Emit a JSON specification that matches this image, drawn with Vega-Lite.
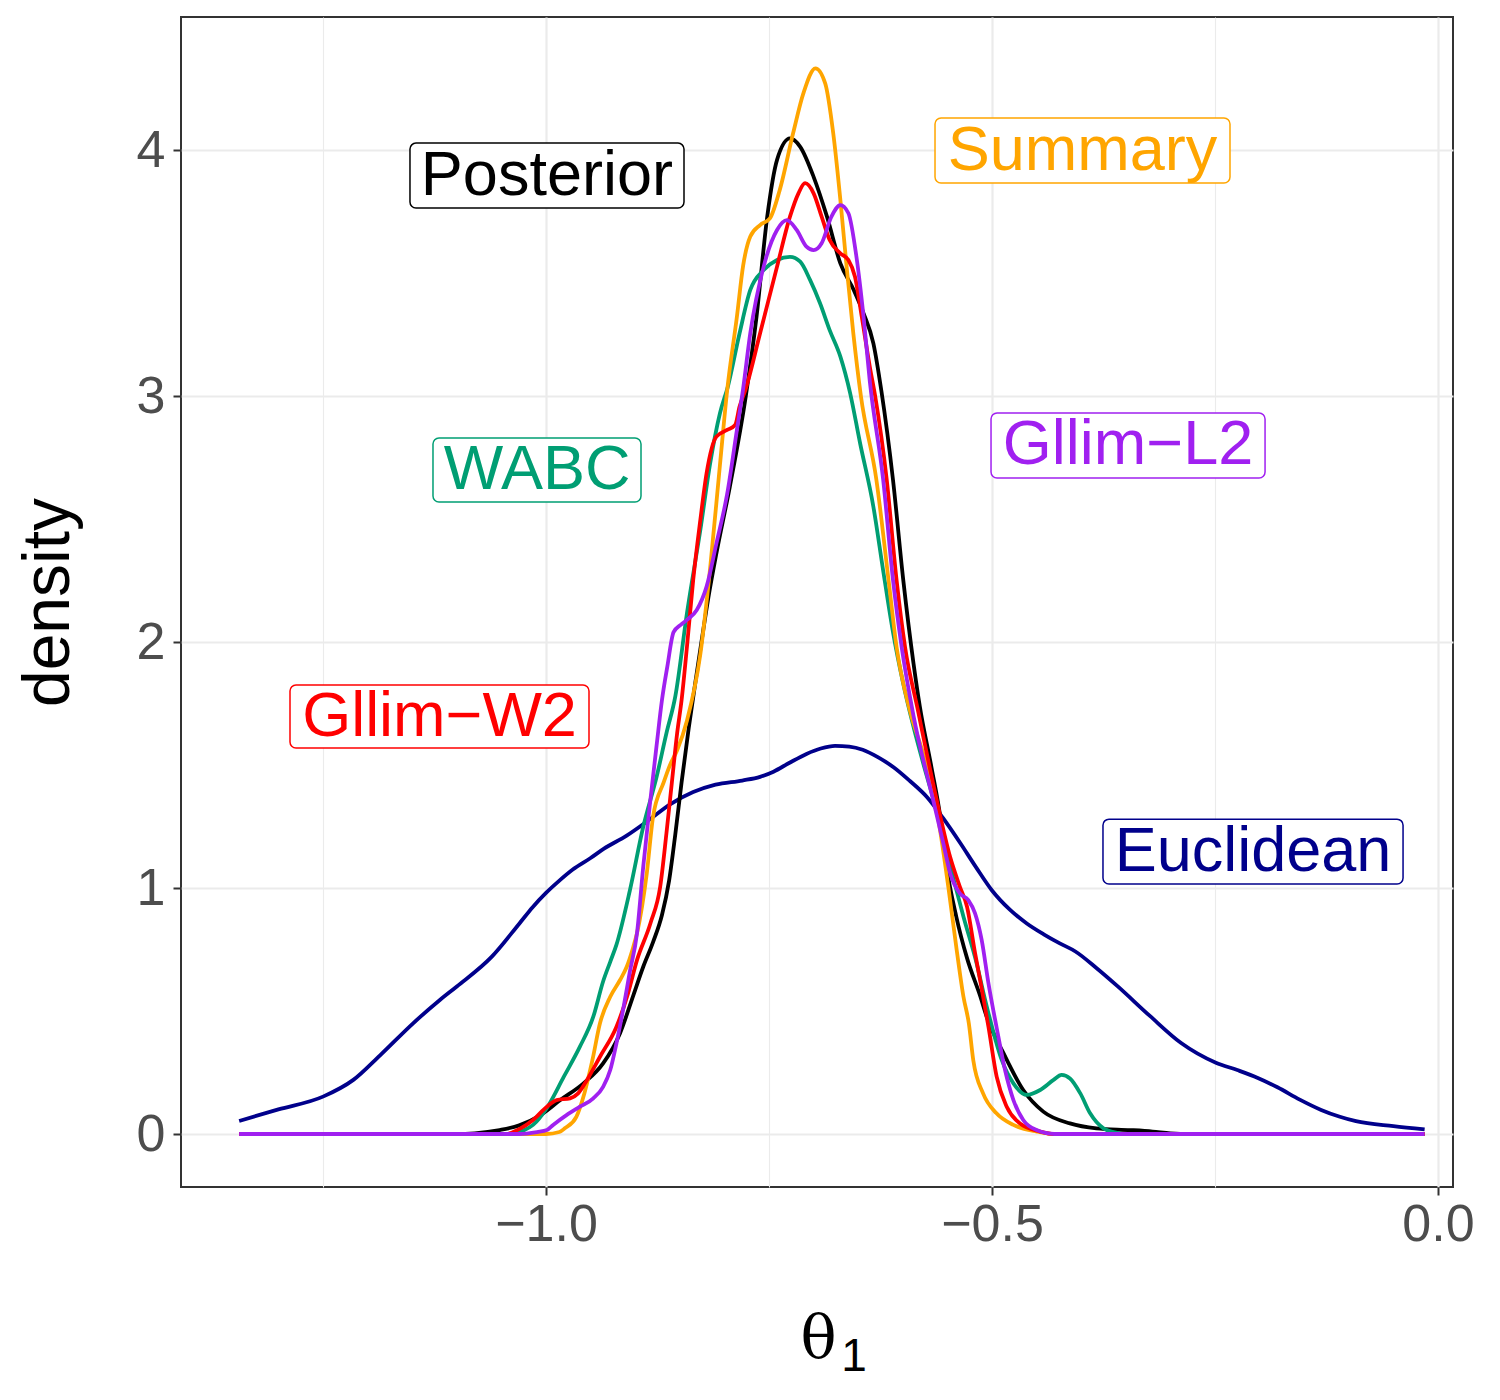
{
  "$schema": "https://vega.github.io/schema/vega-lite/v6.json",
  "width": 1272,
  "height": 1170,
  "autosize": {"type": "none"},
  "padding": {"left": 181, "top": 17, "right": 47, "bottom": 213},
  "background": "white",
  "config": {
    "view": {"stroke": "#333333", "strokeWidth": 2},
    "font": "Liberation Sans"
  },
  "title": {
    "text": "1",
    "orient": "bottom",
    "anchor": "start",
    "frame": "group",
    "align": "center",
    "baseline": "top",
    "dx": 673,
    "offset": -34,
    "font": "Liberation Sans",
    "fontSize": 46,
    "fontWeight": "normal",
    "color": "#000000"
  },
  "datasets": {
    "dens": [
      {"method": "Euclidean", "theta": -1.344, "density": 0.053},
      {"method": "Euclidean", "theta": -1.3, "density": 0.1},
      {"method": "Euclidean", "theta": -1.25, "density": 0.152},
      {"method": "Euclidean", "theta": -1.216, "density": 0.22},
      {"method": "Euclidean", "theta": -1.186, "density": 0.32},
      {"method": "Euclidean", "theta": -1.149, "density": 0.45},
      {"method": "Euclidean", "theta": -1.119, "density": 0.545},
      {"method": "Euclidean", "theta": -1.1, "density": 0.6},
      {"method": "Euclidean", "theta": -1.061, "density": 0.72},
      {"method": "Euclidean", "theta": -1.03, "density": 0.855},
      {"method": "Euclidean", "theta": -1.015, "density": 0.922},
      {"method": "Euclidean", "theta": -1.0, "density": 0.98},
      {"method": "Euclidean", "theta": -0.985, "density": 1.03},
      {"method": "Euclidean", "theta": -0.97, "density": 1.075},
      {"method": "Euclidean", "theta": -0.95, "density": 1.122},
      {"method": "Euclidean", "theta": -0.935, "density": 1.16},
      {"method": "Euclidean", "theta": -0.91, "density": 1.212},
      {"method": "Euclidean", "theta": -0.887, "density": 1.27},
      {"method": "Euclidean", "theta": -0.86, "density": 1.342},
      {"method": "Euclidean", "theta": -0.835, "density": 1.39},
      {"method": "Euclidean", "theta": -0.81, "density": 1.42},
      {"method": "Euclidean", "theta": -0.78, "density": 1.437},
      {"method": "Euclidean", "theta": -0.76, "density": 1.452},
      {"method": "Euclidean", "theta": -0.745, "density": 1.473},
      {"method": "Euclidean", "theta": -0.728, "density": 1.507},
      {"method": "Euclidean", "theta": -0.708, "density": 1.545},
      {"method": "Euclidean", "theta": -0.692, "density": 1.567},
      {"method": "Euclidean", "theta": -0.676, "density": 1.578},
      {"method": "Euclidean", "theta": -0.66, "density": 1.575},
      {"method": "Euclidean", "theta": -0.645, "density": 1.562},
      {"method": "Euclidean", "theta": -0.628, "density": 1.532},
      {"method": "Euclidean", "theta": -0.61, "density": 1.49},
      {"method": "Euclidean", "theta": -0.592, "density": 1.435},
      {"method": "Euclidean", "theta": -0.573, "density": 1.37},
      {"method": "Euclidean", "theta": -0.555, "density": 1.285},
      {"method": "Euclidean", "theta": -0.536, "density": 1.185},
      {"method": "Euclidean", "theta": -0.518, "density": 1.085},
      {"method": "Euclidean", "theta": -0.5, "density": 0.99},
      {"method": "Euclidean", "theta": -0.48, "density": 0.912},
      {"method": "Euclidean", "theta": -0.461, "density": 0.856},
      {"method": "Euclidean", "theta": -0.442, "density": 0.812},
      {"method": "Euclidean", "theta": -0.424, "density": 0.775},
      {"method": "Euclidean", "theta": -0.4065, "density": 0.742},
      {"method": "Euclidean", "theta": -0.383, "density": 0.675},
      {"method": "Euclidean", "theta": -0.359, "density": 0.6},
      {"method": "Euclidean", "theta": -0.323, "density": 0.48},
      {"method": "Euclidean", "theta": -0.288, "density": 0.37},
      {"method": "Euclidean", "theta": -0.249, "density": 0.29},
      {"method": "Euclidean", "theta": -0.225, "density": 0.26},
      {"method": "Euclidean", "theta": -0.202, "density": 0.228},
      {"method": "Euclidean", "theta": -0.18, "density": 0.19},
      {"method": "Euclidean", "theta": -0.155, "density": 0.14},
      {"method": "Euclidean", "theta": -0.131, "density": 0.098},
      {"method": "Euclidean", "theta": -0.11, "density": 0.07},
      {"method": "Euclidean", "theta": -0.092, "density": 0.052},
      {"method": "Euclidean", "theta": -0.05, "density": 0.032},
      {"method": "Euclidean", "theta": -0.015, "density": 0.019},

      {"method": "Posterior", "theta": -1.344, "density": 0},
      {"method": "Posterior", "theta": -1.1, "density": 0},
      {"method": "Posterior", "theta": -1.08, "density": 0.003},
      {"method": "Posterior", "theta": -1.052, "density": 0.016},
      {"method": "Posterior", "theta": -1.03, "density": 0.035},
      {"method": "Posterior", "theta": -1.007, "density": 0.075},
      {"method": "Posterior", "theta": -0.984, "density": 0.138},
      {"method": "Posterior", "theta": -0.958, "density": 0.206},
      {"method": "Posterior", "theta": -0.936, "density": 0.287},
      {"method": "Posterior", "theta": -0.917, "density": 0.41},
      {"method": "Posterior", "theta": -0.902, "density": 0.565},
      {"method": "Posterior", "theta": -0.891, "density": 0.68},
      {"method": "Posterior", "theta": -0.88, "density": 0.78},
      {"method": "Posterior", "theta": -0.87, "density": 0.89},
      {"method": "Posterior", "theta": -0.862, "density": 1.03},
      {"method": "Posterior", "theta": -0.855, "density": 1.22},
      {"method": "Posterior", "theta": -0.848, "density": 1.43},
      {"method": "Posterior", "theta": -0.84, "density": 1.65},
      {"method": "Posterior", "theta": -0.832, "density": 1.85},
      {"method": "Posterior", "theta": -0.827, "density": 1.97},
      {"method": "Posterior", "theta": -0.818, "density": 2.18},
      {"method": "Posterior", "theta": -0.809, "density": 2.36},
      {"method": "Posterior", "theta": -0.794, "density": 2.63},
      {"method": "Posterior", "theta": -0.776, "density": 3.0},
      {"method": "Posterior", "theta": -0.764, "density": 3.322},
      {"method": "Posterior", "theta": -0.752, "density": 3.729},
      {"method": "Posterior", "theta": -0.741, "density": 3.96},
      {"method": "Posterior", "theta": -0.7265, "density": 4.047},
      {"method": "Posterior", "theta": -0.715, "density": 4.013},
      {"method": "Posterior", "theta": -0.7, "density": 3.891},
      {"method": "Posterior", "theta": -0.685, "density": 3.729},
      {"method": "Posterior", "theta": -0.67, "density": 3.539},
      {"method": "Posterior", "theta": -0.655, "density": 3.431},
      {"method": "Posterior", "theta": -0.644, "density": 3.336},
      {"method": "Posterior", "theta": -0.633, "density": 3.214},
      {"method": "Posterior", "theta": -0.624, "density": 3.02},
      {"method": "Posterior", "theta": -0.611, "density": 2.659},
      {"method": "Posterior", "theta": -0.5995, "density": 2.252},
      {"method": "Posterior", "theta": -0.588, "density": 1.913},
      {"method": "Posterior", "theta": -0.581, "density": 1.74},
      {"method": "Posterior", "theta": -0.568, "density": 1.493},
      {"method": "Posterior", "theta": -0.558, "density": 1.29},
      {"method": "Posterior", "theta": -0.551, "density": 1.087},
      {"method": "Posterior", "theta": -0.54, "density": 0.883},
      {"method": "Posterior", "theta": -0.528, "density": 0.715},
      {"method": "Posterior", "theta": -0.513, "density": 0.558},
      {"method": "Posterior", "theta": -0.506, "density": 0.477},
      {"method": "Posterior", "theta": -0.487, "density": 0.328},
      {"method": "Posterior", "theta": -0.465, "density": 0.179},
      {"method": "Posterior", "theta": -0.4425, "density": 0.091},
      {"method": "Posterior", "theta": -0.4126, "density": 0.043},
      {"method": "Posterior", "theta": -0.383, "density": 0.023},
      {"method": "Posterior", "theta": -0.345, "density": 0.016},
      {"method": "Posterior", "theta": -0.32, "density": 0.01},
      {"method": "Posterior", "theta": -0.3, "density": 0.003},
      {"method": "Posterior", "theta": -0.28, "density": 0},
      {"method": "Posterior", "theta": -0.015, "density": 0},

      {"method": "WABC", "theta": -1.344, "density": 0},
      {"method": "WABC", "theta": -1.04, "density": 0},
      {"method": "WABC", "theta": -1.025, "density": 0.015},
      {"method": "WABC", "theta": -1.0145, "density": 0.037},
      {"method": "WABC", "theta": -0.999, "density": 0.106},
      {"method": "WABC", "theta": -0.98, "density": 0.233},
      {"method": "WABC", "theta": -0.962, "density": 0.355},
      {"method": "WABC", "theta": -0.947, "density": 0.477},
      {"method": "WABC", "theta": -0.936, "density": 0.62},
      {"method": "WABC", "theta": -0.928, "density": 0.7},
      {"method": "WABC", "theta": -0.921, "density": 0.77},
      {"method": "WABC", "theta": -0.906, "density": 0.99},
      {"method": "WABC", "theta": -0.891, "density": 1.249},
      {"method": "WABC", "theta": -0.876, "density": 1.452},
      {"method": "WABC", "theta": -0.865, "density": 1.629},
      {"method": "WABC", "theta": -0.855, "density": 1.78},
      {"method": "WABC", "theta": -0.842, "density": 2.117},
      {"method": "WABC", "theta": -0.827, "density": 2.455},
      {"method": "WABC", "theta": -0.816, "density": 2.726},
      {"method": "WABC", "theta": -0.805, "density": 2.93},
      {"method": "WABC", "theta": -0.796, "density": 3.04},
      {"method": "WABC", "theta": -0.783, "density": 3.255},
      {"method": "WABC", "theta": -0.771, "density": 3.431},
      {"method": "WABC", "theta": -0.756, "density": 3.512},
      {"method": "WABC", "theta": -0.741, "density": 3.553},
      {"method": "WABC", "theta": -0.7265, "density": 3.566},
      {"method": "WABC", "theta": -0.715, "density": 3.546},
      {"method": "WABC", "theta": -0.704, "density": 3.472},
      {"method": "WABC", "theta": -0.6928, "density": 3.377},
      {"method": "WABC", "theta": -0.682, "density": 3.268},
      {"method": "WABC", "theta": -0.67, "density": 3.16},
      {"method": "WABC", "theta": -0.659, "density": 3.011},
      {"method": "WABC", "theta": -0.648, "density": 2.81},
      {"method": "WABC", "theta": -0.633, "density": 2.55},
      {"method": "WABC", "theta": -0.622, "density": 2.29},
      {"method": "WABC", "theta": -0.611, "density": 2.04},
      {"method": "WABC", "theta": -0.5995, "density": 1.83},
      {"method": "WABC", "theta": -0.588, "density": 1.655},
      {"method": "WABC", "theta": -0.577, "density": 1.505},
      {"method": "WABC", "theta": -0.562, "density": 1.312},
      {"method": "WABC", "theta": -0.547, "density": 1.09},
      {"method": "WABC", "theta": -0.532, "density": 0.883},
      {"method": "WABC", "theta": -0.517, "density": 0.69},
      {"method": "WABC", "theta": -0.51, "density": 0.58},
      {"method": "WABC", "theta": -0.502, "density": 0.463},
      {"method": "WABC", "theta": -0.489, "density": 0.3},
      {"method": "WABC", "theta": -0.476, "density": 0.206},
      {"method": "WABC", "theta": -0.461, "density": 0.159},
      {"method": "WABC", "theta": -0.446, "density": 0.179},
      {"method": "WABC", "theta": -0.431, "density": 0.22},
      {"method": "WABC", "theta": -0.422, "density": 0.24},
      {"method": "WABC", "theta": -0.4126, "density": 0.226},
      {"method": "WABC", "theta": -0.401, "density": 0.165},
      {"method": "WABC", "theta": -0.39, "density": 0.084},
      {"method": "WABC", "theta": -0.375, "density": 0.023},
      {"method": "WABC", "theta": -0.36, "density": 0.005},
      {"method": "WABC", "theta": -0.35, "density": 0},
      {"method": "WABC", "theta": -0.015, "density": 0},

      {"method": "Summary", "theta": -1.344, "density": 0},
      {"method": "Summary", "theta": -1.0, "density": 0},
      {"method": "Summary", "theta": -0.985, "density": 0.008},
      {"method": "Summary", "theta": -0.979, "density": 0.023},
      {"method": "Summary", "theta": -0.966, "density": 0.07},
      {"method": "Summary", "theta": -0.957, "density": 0.165},
      {"method": "Summary", "theta": -0.948, "density": 0.3},
      {"method": "Summary", "theta": -0.9395, "density": 0.45},
      {"method": "Summary", "theta": -0.928, "density": 0.558},
      {"method": "Summary", "theta": -0.917, "density": 0.626},
      {"method": "Summary", "theta": -0.9095, "density": 0.68},
      {"method": "Summary", "theta": -0.903, "density": 0.75},
      {"method": "Summary", "theta": -0.898, "density": 0.816},
      {"method": "Summary", "theta": -0.887, "density": 1.06},
      {"method": "Summary", "theta": -0.88, "density": 1.29},
      {"method": "Summary", "theta": -0.868, "density": 1.43},
      {"method": "Summary", "theta": -0.861, "density": 1.5},
      {"method": "Summary", "theta": -0.853, "density": 1.56},
      {"method": "Summary", "theta": -0.842, "density": 1.68},
      {"method": "Summary", "theta": -0.827, "density": 1.95},
      {"method": "Summary", "theta": -0.816, "density": 2.3},
      {"method": "Summary", "theta": -0.805, "density": 2.72},
      {"method": "Summary", "theta": -0.797, "density": 3.02},
      {"method": "Summary", "theta": -0.786, "density": 3.322},
      {"method": "Summary", "theta": -0.779, "density": 3.53},
      {"method": "Summary", "theta": -0.771, "density": 3.648},
      {"method": "Summary", "theta": -0.76, "density": 3.695},
      {"method": "Summary", "theta": -0.749, "density": 3.722},
      {"method": "Summary", "theta": -0.738, "density": 3.837},
      {"method": "Summary", "theta": -0.723, "density": 4.068},
      {"method": "Summary", "theta": -0.7115, "density": 4.23},
      {"method": "Summary", "theta": -0.698, "density": 4.332},
      {"method": "Summary", "theta": -0.687, "density": 4.271},
      {"method": "Summary", "theta": -0.678, "density": 4.068},
      {"method": "Summary", "theta": -0.67, "density": 3.797},
      {"method": "Summary", "theta": -0.663, "density": 3.526},
      {"method": "Summary", "theta": -0.6555, "density": 3.255},
      {"method": "Summary", "theta": -0.647, "density": 3.0},
      {"method": "Summary", "theta": -0.6296, "density": 2.659},
      {"method": "Summary", "theta": -0.616, "density": 2.252},
      {"method": "Summary", "theta": -0.607, "density": 1.98},
      {"method": "Summary", "theta": -0.592, "density": 1.72},
      {"method": "Summary", "theta": -0.575, "density": 1.52},
      {"method": "Summary", "theta": -0.562, "density": 1.317},
      {"method": "Summary", "theta": -0.549, "density": 1.005},
      {"method": "Summary", "theta": -0.5396, "density": 0.748},
      {"method": "Summary", "theta": -0.532, "density": 0.558},
      {"method": "Summary", "theta": -0.526, "density": 0.45},
      {"method": "Summary", "theta": -0.521, "density": 0.3},
      {"method": "Summary", "theta": -0.51, "density": 0.165},
      {"method": "Summary", "theta": -0.495, "density": 0.084},
      {"method": "Summary", "theta": -0.476, "density": 0.037},
      {"method": "Summary", "theta": -0.45, "density": 0.01},
      {"method": "Summary", "theta": -0.43, "density": 0},
      {"method": "Summary", "theta": -0.015, "density": 0},

      {"method": "Gllim−W2", "theta": -1.344, "density": 0},
      {"method": "Gllim−W2", "theta": -1.045, "density": 0},
      {"method": "Gllim−W2", "theta": -1.03, "density": 0.02},
      {"method": "Gllim−W2", "theta": -1.0145, "density": 0.057},
      {"method": "Gllim−W2", "theta": -0.999, "density": 0.111},
      {"method": "Gllim−W2", "theta": -0.988, "density": 0.138},
      {"method": "Gllim−W2", "theta": -0.973, "density": 0.145},
      {"method": "Gllim−W2", "theta": -0.964, "density": 0.165},
      {"method": "Gllim−W2", "theta": -0.954, "density": 0.22},
      {"method": "Gllim−W2", "theta": -0.9395, "density": 0.314},
      {"method": "Gllim−W2", "theta": -0.921, "density": 0.436},
      {"method": "Gllim−W2", "theta": -0.909, "density": 0.56},
      {"method": "Gllim−W2", "theta": -0.898, "density": 0.707},
      {"method": "Gllim−W2", "theta": -0.883, "density": 0.856},
      {"method": "Gllim−W2", "theta": -0.872, "density": 1.005},
      {"method": "Gllim−W2", "theta": -0.865, "density": 1.222},
      {"method": "Gllim−W2", "theta": -0.859, "density": 1.426},
      {"method": "Gllim−W2", "theta": -0.853, "density": 1.629},
      {"method": "Gllim−W2", "theta": -0.848, "density": 1.764},
      {"method": "Gllim−W2", "theta": -0.842, "density": 1.98},
      {"method": "Gllim−W2", "theta": -0.835, "density": 2.252},
      {"method": "Gllim−W2", "theta": -0.827, "density": 2.496},
      {"method": "Gllim−W2", "theta": -0.82, "density": 2.686},
      {"method": "Gllim−W2", "theta": -0.809, "density": 2.835},
      {"method": "Gllim−W2", "theta": -0.797, "density": 2.862},
      {"method": "Gllim−W2", "theta": -0.788, "density": 2.882},
      {"method": "Gllim−W2", "theta": -0.783, "density": 2.957},
      {"method": "Gllim−W2", "theta": -0.776, "density": 3.03},
      {"method": "Gllim−W2", "theta": -0.76, "density": 3.255},
      {"method": "Gllim−W2", "theta": -0.741, "density": 3.526},
      {"method": "Gllim−W2", "theta": -0.7265, "density": 3.729},
      {"method": "Gllim−W2", "theta": -0.717, "density": 3.824},
      {"method": "Gllim−W2", "theta": -0.7096, "density": 3.865},
      {"method": "Gllim−W2", "theta": -0.7, "density": 3.824},
      {"method": "Gllim−W2", "theta": -0.691, "density": 3.729},
      {"method": "Gllim−W2", "theta": -0.682, "density": 3.634},
      {"method": "Gllim−W2", "theta": -0.67, "density": 3.58},
      {"method": "Gllim−W2", "theta": -0.661, "density": 3.553},
      {"method": "Gllim−W2", "theta": -0.6536, "density": 3.485},
      {"method": "Gllim−W2", "theta": -0.646, "density": 3.322},
      {"method": "Gllim−W2", "theta": -0.637, "density": 3.119},
      {"method": "Gllim−W2", "theta": -0.631, "density": 3.0},
      {"method": "Gllim−W2", "theta": -0.618, "density": 2.659},
      {"method": "Gllim−W2", "theta": -0.607, "density": 2.252},
      {"method": "Gllim−W2", "theta": -0.5975, "density": 1.98},
      {"method": "Gllim−W2", "theta": -0.5835, "density": 1.73},
      {"method": "Gllim−W2", "theta": -0.562, "density": 1.358},
      {"method": "Gllim−W2", "theta": -0.547, "density": 1.127},
      {"method": "Gllim−W2", "theta": -0.536, "density": 1.005},
      {"method": "Gllim−W2", "theta": -0.528, "density": 0.924},
      {"method": "Gllim−W2", "theta": -0.519, "density": 0.735},
      {"method": "Gllim−W2", "theta": -0.512, "density": 0.6},
      {"method": "Gllim−W2", "theta": -0.504, "density": 0.436},
      {"method": "Gllim−W2", "theta": -0.4948, "density": 0.233},
      {"method": "Gllim−W2", "theta": -0.4835, "density": 0.111},
      {"method": "Gllim−W2", "theta": -0.4686, "density": 0.043},
      {"method": "Gllim−W2", "theta": -0.446, "density": 0.01},
      {"method": "Gllim−W2", "theta": -0.43, "density": 0},
      {"method": "Gllim−W2", "theta": -0.015, "density": 0},

      {"method": "Gllim−L2", "theta": -1.344, "density": 0},
      {"method": "Gllim−L2", "theta": -1.03, "density": 0},
      {"method": "Gllim−L2", "theta": -1.01, "density": 0.008},
      {"method": "Gllim−L2", "theta": -0.999, "density": 0.016},
      {"method": "Gllim−L2", "theta": -0.992, "density": 0.037},
      {"method": "Gllim−L2", "theta": -0.977, "density": 0.077},
      {"method": "Gllim−L2", "theta": -0.962, "density": 0.111},
      {"method": "Gllim−L2", "theta": -0.947, "density": 0.145},
      {"method": "Gllim−L2", "theta": -0.936, "density": 0.192},
      {"method": "Gllim−L2", "theta": -0.928, "density": 0.26},
      {"method": "Gllim−L2", "theta": -0.921, "density": 0.369},
      {"method": "Gllim−L2", "theta": -0.913, "density": 0.517},
      {"method": "Gllim−L2", "theta": -0.906, "density": 0.66},
      {"method": "Gllim−L2", "theta": -0.898, "density": 0.816},
      {"method": "Gllim−L2", "theta": -0.891, "density": 1.087},
      {"method": "Gllim−L2", "theta": -0.883, "density": 1.358},
      {"method": "Gllim−L2", "theta": -0.876, "density": 1.58},
      {"method": "Gllim−L2", "theta": -0.87, "density": 1.764},
      {"method": "Gllim−L2", "theta": -0.864, "density": 1.9},
      {"method": "Gllim−L2", "theta": -0.857, "density": 2.04},
      {"method": "Gllim−L2", "theta": -0.849, "density": 2.07},
      {"method": "Gllim−L2", "theta": -0.842, "density": 2.09},
      {"method": "Gllim−L2", "theta": -0.831, "density": 2.13},
      {"method": "Gllim−L2", "theta": -0.82, "density": 2.225},
      {"method": "Gllim−L2", "theta": -0.809, "density": 2.4},
      {"method": "Gllim−L2", "theta": -0.797, "density": 2.6},
      {"method": "Gllim−L2", "theta": -0.786, "density": 2.862},
      {"method": "Gllim−L2", "theta": -0.779, "density": 3.03},
      {"method": "Gllim−L2", "theta": -0.771, "density": 3.255},
      {"method": "Gllim−L2", "theta": -0.756, "density": 3.526},
      {"method": "Gllim−L2", "theta": -0.741, "density": 3.675},
      {"method": "Gllim−L2", "theta": -0.73, "density": 3.715},
      {"method": "Gllim−L2", "theta": -0.719, "density": 3.675},
      {"method": "Gllim−L2", "theta": -0.708, "density": 3.607},
      {"method": "Gllim−L2", "theta": -0.7, "density": 3.593},
      {"method": "Gllim−L2", "theta": -0.691, "density": 3.621},
      {"method": "Gllim−L2", "theta": -0.68, "density": 3.729},
      {"method": "Gllim−L2", "theta": -0.67, "density": 3.776},
      {"method": "Gllim−L2", "theta": -0.661, "density": 3.743},
      {"method": "Gllim−L2", "theta": -0.652, "density": 3.566},
      {"method": "Gllim−L2", "theta": -0.644, "density": 3.322},
      {"method": "Gllim−L2", "theta": -0.637, "density": 3.06},
      {"method": "Gllim−L2", "theta": -0.622, "density": 2.659},
      {"method": "Gllim−L2", "theta": -0.611, "density": 2.252},
      {"method": "Gllim−L2", "theta": -0.6013, "density": 1.98},
      {"method": "Gllim−L2", "theta": -0.588, "density": 1.7},
      {"method": "Gllim−L2", "theta": -0.566, "density": 1.358},
      {"method": "Gllim−L2", "theta": -0.5546, "density": 1.182},
      {"method": "Gllim−L2", "theta": -0.547, "density": 1.06},
      {"method": "Gllim−L2", "theta": -0.536, "density": 0.978},
      {"method": "Gllim−L2", "theta": -0.5266, "density": 0.951},
      {"method": "Gllim−L2", "theta": -0.519, "density": 0.897},
      {"method": "Gllim−L2", "theta": -0.5116, "density": 0.789},
      {"method": "Gllim−L2", "theta": -0.504, "density": 0.613},
      {"method": "Gllim−L2", "theta": -0.495, "density": 0.436},
      {"method": "Gllim−L2", "theta": -0.4854, "density": 0.26},
      {"method": "Gllim−L2", "theta": -0.476, "density": 0.138},
      {"method": "Gllim−L2", "theta": -0.465, "density": 0.057},
      {"method": "Gllim−L2", "theta": -0.45, "density": 0.016},
      {"method": "Gllim−L2", "theta": -0.43, "density": 0},
      {"method": "Gllim−L2", "theta": -0.015, "density": 0}
    ],
    "labels": [
      {"method": "Posterior", "theta": -0.999, "density": 3.896, "box_left": -1.1525, "box_right": -0.8453, "box_bottom": 3.764, "box_top": 4.028},
      {"method": "Summary", "theta": -0.3985, "density": 3.998, "box_left": -0.5639, "box_right": -0.2332, "box_bottom": 3.866, "box_top": 4.13},
      {"method": "WABC", "theta": -1.01, "density": 2.699, "box_left": -1.1267, "box_right": -0.8935, "box_bottom": 2.569, "box_top": 2.829},
      {"method": "Gllim−L2", "theta": -0.3475, "density": 2.799, "box_left": -0.5011, "box_right": -0.1939, "box_bottom": 2.667, "box_top": 2.931},
      {"method": "Gllim−W2", "theta": -1.1194, "density": 1.697, "box_left": -1.287, "box_right": -0.9518, "box_bottom": 1.569, "box_top": 1.825},
      {"method": "Euclidean", "theta": -0.2074, "density": 1.148, "box_left": -0.3756, "box_right": -0.0392, "box_bottom": 1.016, "box_top": 1.28}
    ]
  },
  "layer": [
    {
      "data": {"name": "dens"},
      "mark": {"type": "line", "strokeWidth": 3.8, "interpolate": "monotone", "clip": true},
      "encoding": {
        "x": {
          "field": "theta", "type": "quantitative",
          "scale": {"domain": [-1.4092, 0.0168], "nice": false, "zero": false},
          "axis": {
            "values": [-1.25, -1, -0.75, -0.5, -0.25, 0],
            "format": ".1f",
            "labelExpr": "(datum.value * 4) % 2 === 0 ? datum.label : ''",
            "title": "θ",
            "titleFont": "DejaVu Serif",
            "titleFontSize": 60,
            "titleFontWeight": "normal",
            "titleColor": "#000000",
            "titlePadding": 60,
            "titleX": 637,
            "labelFont": "Liberation Sans",
            "labelFontSize": 52,
            "labelColor": "#4D4D4D",
            "labelPadding": 4,
            "labelFlush": false,
            "domain": false,
            "tickColor": "#333333",
            "tickWidth": 2,
            "tickSize": 8,
            "tickOpacity": {"condition": {"test": "(datum.value * 4) % 2 !== 0", "value": 0}, "value": 1},
            "grid": true,
            "gridColor": "#EBEBEB",
            "gridWidth": {"condition": {"test": "(datum.value * 4) % 2 !== 0", "value": 1.1}, "value": 2.2}
          }
        },
        "y": {
          "field": "density", "type": "quantitative",
          "scale": {"domain": [-0.2154, 4.5407], "nice": false, "zero": false},
          "axis": {
            "values": [0, 0.5, 1, 1.5, 2, 2.5, 3, 3.5, 4, 4.5],
            "format": "d",
            "labelExpr": "datum.value % 1 === 0 ? datum.label : ''",
            "title": "density",
            "titleFont": "Liberation Sans",
            "titleFontSize": 66,
            "titleFontWeight": "normal",
            "titleColor": "#000000",
            "titlePadding": 54,
            "labelFont": "Liberation Sans",
            "labelFontSize": 52,
            "labelColor": "#4D4D4D",
            "labelPadding": 8,
            "labelFlush": false,
            "domain": false,
            "tickColor": "#333333",
            "tickWidth": 2,
            "tickSize": 8,
            "tickOpacity": {"condition": {"test": "datum.value % 1 !== 0", "value": 0}, "value": 1},
            "grid": true,
            "gridColor": "#EBEBEB",
            "gridWidth": {"condition": {"test": "datum.value % 1 !== 0", "value": 1.1}, "value": 2.2}
          }
        },
        "color": {
          "field": "method", "type": "nominal",
          "scale": {
            "domain": ["Euclidean", "Posterior", "WABC", "Summary", "Gllim−W2", "Gllim−L2"],
            "range": ["#00008B", "#000000", "#009E73", "#FFA500", "#FF0000", "#A020F0"]
          },
          "legend": null
        }
      }
    },
    {
      "data": {"name": "labels"},
      "mark": {"type": "rect", "fill": "white", "strokeWidth": 1.5, "cornerRadius": 6},
      "encoding": {
        "x": {"field": "box_left", "type": "quantitative"},
        "x2": {"field": "box_right"},
        "y": {"field": "box_bottom", "type": "quantitative"},
        "y2": {"field": "box_top"},
        "stroke": {
          "field": "method", "type": "nominal",
          "scale": {
            "domain": ["Euclidean", "Posterior", "WABC", "Summary", "Gllim−W2", "Gllim−L2"],
            "range": ["#00008B", "#000000", "#009E73", "#FFA500", "#FF0000", "#A020F0"]
          },
          "legend": null
        }
      }
    },
    {
      "data": {"name": "labels"},
      "mark": {"type": "text", "font": "Liberation Sans", "fontSize": 63, "align": "center", "baseline": "middle"},
      "encoding": {
        "x": {"field": "theta", "type": "quantitative"},
        "y": {"field": "density", "type": "quantitative"},
        "text": {"field": "method"},
        "color": {"field": "method", "type": "nominal", "legend": null}
      }
    }
  ]
}
